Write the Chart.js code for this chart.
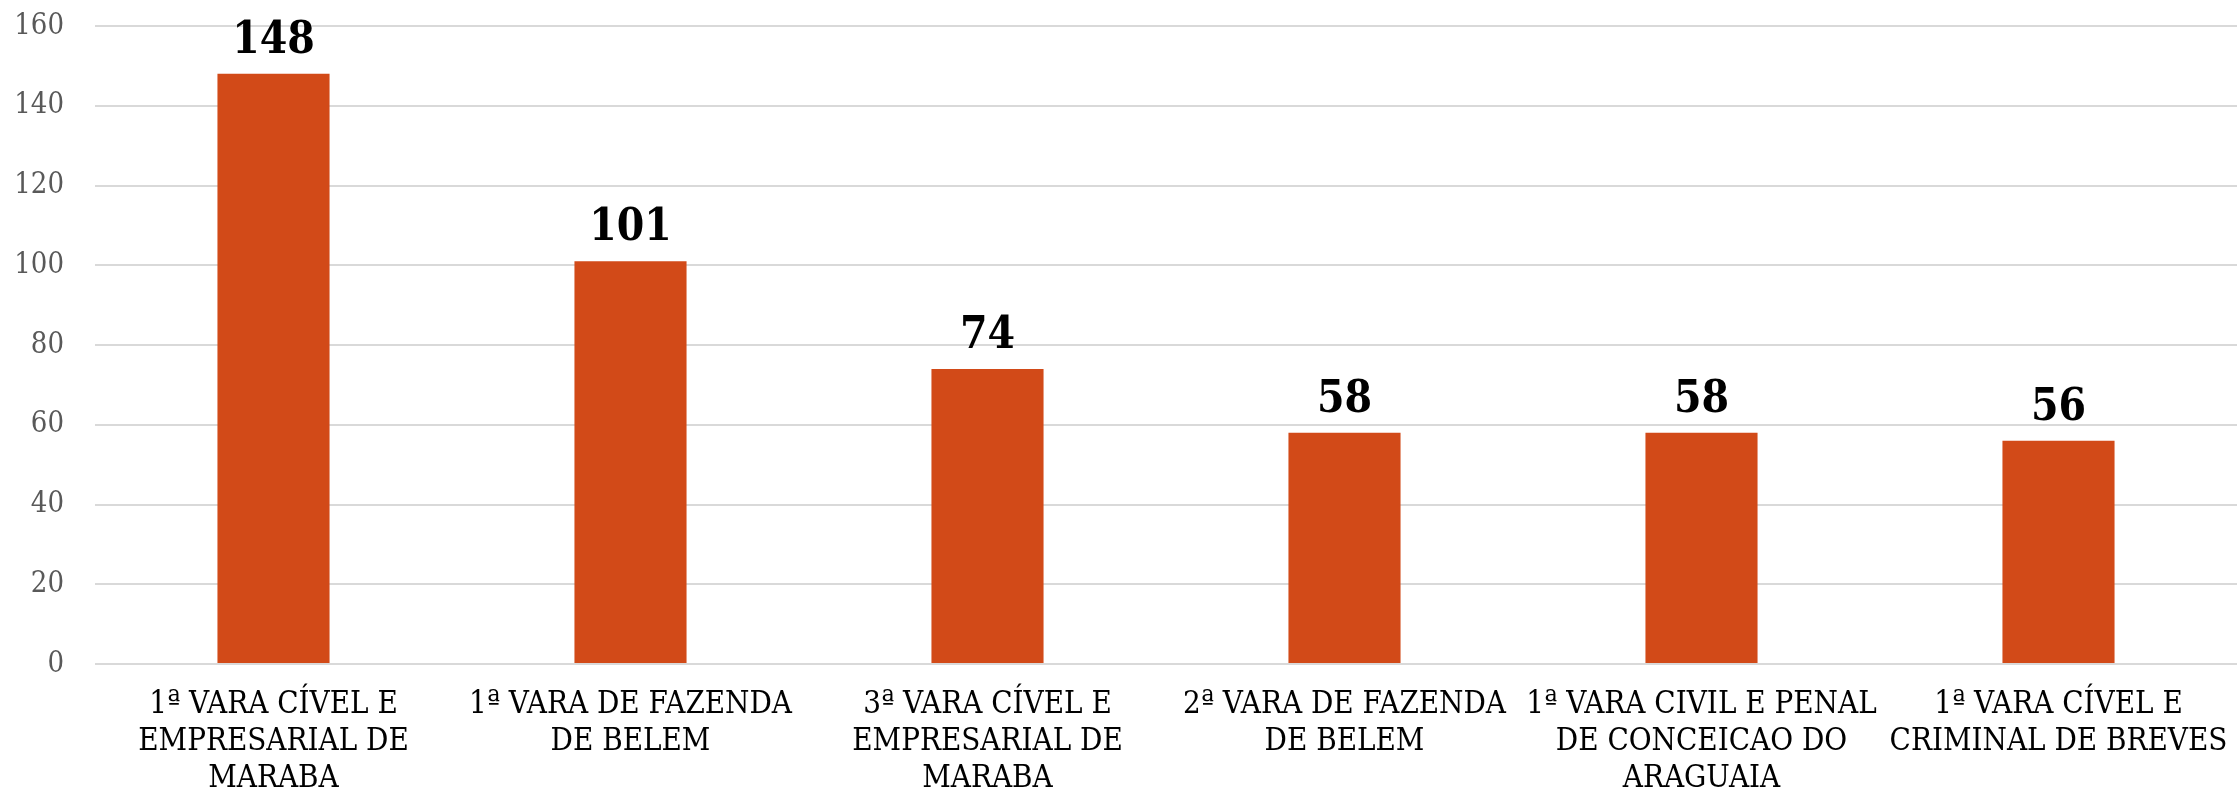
<!DOCTYPE html>
<html>
<head>
<meta charset="utf-8">
<script src="https://cdn.jsdelivr.net/npm/chart.js@4.4.1/dist/chart.umd.min.js"></script>
<style>
  body { margin: 0; background: #fff; }
  #wrap { width: 2237px; height: 793px; }
</style>
</head>
<body>
<div id="wrap"><canvas id="grafico"></canvas></div>
<script>
// Dados
const categorias = [
    ["1ª VARA CÍVEL E", "EMPRESARIAL DE", "MARABA"],
    ["1ª VARA DE FAZENDA", "DE BELEM"],
    ["3ª VARA CÍVEL E", "EMPRESARIAL DE", "MARABA"],
    ["2ª VARA DE FAZENDA", "DE BELEM"],
    ["1ª VARA CIVIL E PENAL", "DE CONCEICAO DO", "ARAGUAIA"],
    ["1ª VARA CÍVEL E", "CRIMINAL DE BREVES"]
];
const valores = [148, 101, 74, 58, 58, 56];
const yMin = 0;
const yMax = 160;
const yPasso = 20;

const fonte = "'DejaVu Serif Condensed', 'DejaVu Serif', serif";

// Rotulos em cima das barras
const rotulosBarras = {
    id: 'rotulosBarras',
    afterDatasetsDraw(chart) {
        const ctx = chart.ctx;
        const meta = chart.getDatasetMeta(0);
        ctx.save();
        ctx.font = "bold 44px " + fonte;
        ctx.fillStyle = '#000';
        ctx.textAlign = 'center';
        ctx.textBaseline = 'alphabetic';
        meta.data.forEach((bar, i) => {
            ctx.fillText(chart.data.datasets[0].data[i], bar.x, bar.y - 21);
        });
        ctx.restore();
    }
};

const ctx = document.querySelector('#grafico').getContext('2d');
new Chart(ctx, {
    type: 'bar',
    data: {
        labels: categorias,
        datasets: [{
            data: valores,
            backgroundColor: '#D24A18',
            categoryPercentage: 1,
            barPercentage: 0.314
        }]
    },
    options: {
        responsive: true,
        maintainAspectRatio: false,
        animation: false,
        layout: { padding: { top: 26, right: 0, left: 0, bottom: 0 } },
        plugins: {
            legend: { display: false },
            tooltip: { enabled: false }
        },
        scales: {
            x: {
                grid: { display: false, drawTicks: false },
                border: { display: false },
                ticks: {
                    color: '#000',
                    font: { family: fonte, size: 31, lineHeight: 1.2 },
                    maxRotation: 0,
                    minRotation: 0,
                    autoSkip: false,
                    padding: 22
                },
                afterFit(scale) {
                    scale.height = 129;
                    scale.paddingLeft = 0;
                    scale.paddingRight = 0;
                }
            },
            y: {
                min: yMin,
                max: yMax,
                grid: { color: '#d9d9d9', lineWidth: 2, drawTicks: false },
                border: { display: false },
                ticks: {
                    stepSize: yPasso,
                    color: '#595959',
                    font: { family: fonte, size: 29 },
                    padding: 31
                },
                afterFit(scale) {
                    scale.width = 95;
                    scale.paddingTop = 0;
                    scale.paddingBottom = 0;
                }
            }
        }
    },
    plugins: [rotulosBarras]
});
</script>
</body>
</html>
